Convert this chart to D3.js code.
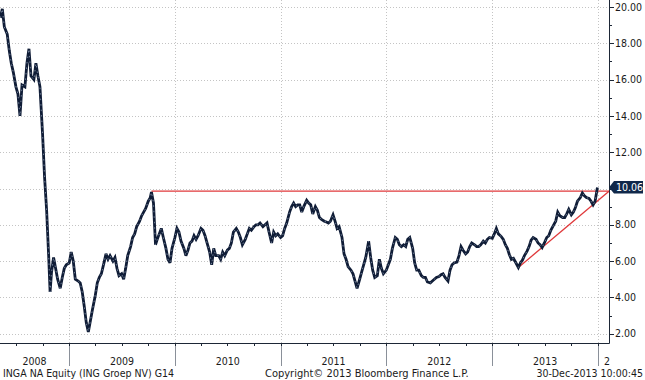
<!DOCTYPE html>
<html><head><meta charset="utf-8">
<script src="https://cdn.jsdelivr.net/npm/d3@7/dist/d3.min.js"></script>
<style>
html,body{margin:0;padding:0;background:#fff;}
svg{display:block;}
text{font-family:"DejaVu Sans Condensed","DejaVu Sans",sans-serif;}
</style></head>
<body><svg id="c" width="645" height="380"></svg>
<script>
// weekly-ish closing prices (EUR)
const dates2008 = ["2008-05-08","2008-05-15","2008-05-22","2008-06-01","2008-06-08","2008-06-15","2008-06-22","2008-07-01","2008-07-08","2008-07-15","2008-07-22","2008-08-01","2008-08-08","2008-08-15","2008-08-22","2008-09-01","2008-09-08","2008-09-15","2008-09-22","2008-10-01","2008-10-08","2008-10-15","2008-10-22","2008-10-27","2008-11-01","2008-11-08","2008-11-15","2008-11-22","2008-12-01","2008-12-08","2008-12-15","2008-12-22"];
const close2008 = [19.4,19.9,18.9,18.5,17.6,16.9,16.4,15.6,15.2,14.0,15.7,15.6,16.9,17.7,16.2,16.0,16.9,16.2,15.6,13.0,10.6,8.8,6.3,4.3,5.4,6.2,5.6,5.0,4.5,5.1,5.6,5.8];
const dates2009 = ["2009-01-01","2009-01-08","2009-01-15","2009-01-22","2009-02-01","2009-02-08","2009-02-15","2009-02-22","2009-03-01","2009-03-08","2009-03-15","2009-03-22","2009-04-01","2009-04-08","2009-04-15","2009-04-22","2009-05-01","2009-05-08","2009-05-15","2009-05-22","2009-06-01","2009-06-08","2009-06-15","2009-06-22","2009-07-01","2009-07-08","2009-07-15","2009-07-22","2009-08-01","2009-08-08","2009-08-15","2009-08-22","2009-09-01","2009-09-08","2009-09-15","2009-09-22","2009-10-01","2009-10-08","2009-10-12","2009-10-19","2009-10-26","2009-11-01","2009-11-08","2009-11-15","2009-11-22","2009-12-01","2009-12-08","2009-12-15","2009-12-22"];
const close2009 = [5.9,6.5,6.0,5.0,4.9,4.8,4.3,3.5,2.6,2.1,2.7,3.3,4.1,4.8,5.1,5.3,5.9,6.4,6.1,6.3,6.0,6.2,5.6,5.2,5.3,5.0,5.6,6.3,6.8,7.3,7.5,7.9,8.2,8.5,8.7,8.9,9.3,9.5,9.8,9.2,6.9,7.2,7.5,7.8,7.3,6.7,6.1,5.9,6.7];
const dates2010 = ["2010-01-01","2010-01-08","2010-01-15","2010-01-22","2010-02-01","2010-02-08","2010-02-15","2010-02-22","2010-03-01","2010-03-08","2010-03-15","2010-03-22","2010-04-01","2010-04-08","2010-04-15","2010-04-22","2010-05-01","2010-05-08","2010-05-15","2010-05-22","2010-06-01","2010-06-08","2010-06-15","2010-06-22","2010-07-01","2010-07-08","2010-07-15","2010-07-22","2010-08-01","2010-08-08","2010-08-15","2010-08-22","2010-09-01","2010-09-08","2010-09-15","2010-09-22","2010-10-01","2010-10-08","2010-10-15","2010-10-22","2010-11-01","2010-11-08","2010-11-15","2010-11-22","2010-12-01","2010-12-08","2010-12-15","2010-12-22"];
const close2010 = [7.3,7.8,7.6,7.1,6.7,6.3,6.6,7.0,7.1,7.4,7.2,7.4,7.8,7.7,7.4,7.0,6.5,5.8,6.7,6.3,6.3,6.1,6.5,6.3,6.6,6.7,7.0,7.6,7.8,7.6,7.3,6.9,7.2,7.5,7.8,7.7,7.9,8.0,8.0,8.1,7.9,8.0,8.1,7.6,7.0,7.6,7.4,7.5];
const dates2011 = ["2011-01-01","2011-01-08","2011-01-15","2011-01-22","2011-02-01","2011-02-08","2011-02-15","2011-02-22","2011-03-01","2011-03-08","2011-03-15","2011-03-22","2011-04-01","2011-04-08","2011-04-15","2011-04-22","2011-05-01","2011-05-08","2011-05-15","2011-05-22","2011-06-01","2011-06-08","2011-06-15","2011-06-22","2011-07-01","2011-07-08","2011-07-15","2011-07-22","2011-08-01","2011-08-08","2011-08-15","2011-08-22","2011-09-01","2011-09-08","2011-09-15","2011-09-22","2011-10-01","2011-10-08","2011-10-15","2011-10-22","2011-11-01","2011-11-08","2011-11-15","2011-11-22","2011-12-01","2011-12-08","2011-12-15","2011-12-22"];
const close2011 = [7.3,7.4,7.8,8.1,8.7,9.0,9.2,9.0,9.1,9.1,8.7,9.0,9.35,9.2,9.1,8.6,9.0,8.8,8.4,8.3,8.2,8.15,8.1,8.2,8.55,8.2,7.8,7.9,7.3,6.4,6.1,5.7,5.5,5.3,4.9,4.5,5.0,5.4,5.8,6.2,7.1,6.2,5.5,5.1,5.2,6.1,5.6,5.3];
const dates2012 = ["2012-01-01","2012-01-08","2012-01-15","2012-01-22","2012-02-01","2012-02-08","2012-02-15","2012-02-22","2012-03-01","2012-03-08","2012-03-15","2012-03-22","2012-04-01","2012-04-08","2012-04-15","2012-04-22","2012-05-01","2012-05-08","2012-05-15","2012-05-22","2012-06-01","2012-06-08","2012-06-15","2012-06-22","2012-07-01","2012-07-08","2012-07-15","2012-07-22","2012-08-01","2012-08-08","2012-08-15","2012-08-22","2012-09-01","2012-09-08","2012-09-15","2012-09-22","2012-10-01","2012-10-08","2012-10-15","2012-10-22","2012-11-01","2012-11-08","2012-11-15","2012-11-22","2012-12-01","2012-12-08","2012-12-15","2012-12-22"];
const close2012 = [5.5,5.8,6.1,6.7,7.3,7.2,6.9,6.8,6.9,6.8,7.2,7.3,6.7,5.9,5.5,5.5,5.2,5.1,5.1,4.85,4.8,4.9,5.0,5.1,5.15,5.25,5.3,5.1,4.9,5.5,5.8,5.9,5.95,6.3,6.8,6.6,6.4,6.5,6.8,7.0,6.9,6.8,6.8,6.9,7.1,7.0,7.2,7.3];
const dates2013 = ["2013-01-01","2013-01-08","2013-01-15","2013-01-22","2013-02-01","2013-02-08","2013-02-15","2013-02-22","2013-03-01","2013-03-08","2013-03-15","2013-03-22","2013-04-01","2013-04-08","2013-04-15","2013-04-22","2013-05-01","2013-05-08","2013-05-15","2013-05-22","2013-06-01","2013-06-08","2013-06-15","2013-06-22","2013-07-01","2013-07-08","2013-07-15","2013-07-22","2013-08-01","2013-08-08","2013-08-15","2013-08-22","2013-09-01","2013-09-08","2013-09-15","2013-09-22","2013-10-01","2013-10-08","2013-10-15","2013-10-22","2013-11-01","2013-11-08","2013-11-15","2013-11-22","2013-12-01","2013-12-08","2013-12-15","2013-12-22","2013-12-30"];
const close2013 = [7.25,7.5,7.8,7.5,7.35,7.2,6.9,6.7,6.35,6.1,6.15,5.95,5.65,5.9,6.05,6.3,6.55,6.8,7.15,7.3,7.2,7.0,6.9,6.75,7.05,7.3,7.4,7.7,8.0,8.2,8.7,8.5,8.4,8.4,8.6,8.85,8.55,8.7,8.95,9.3,9.5,9.75,9.6,9.5,9.45,9.3,9.1,9.3,10.06];

const resistanceDates = ["2009-10-12","2014-02-08"];
const resistanceValues = [9.85,9.85];
const trendDates = ["2013-04-01","2014-02-08"];
const trendValues = [5.65,9.85];
const yTicks = [2,4,6,8,10,12,14,16,18,20];
const yMinorTicks = [3,5,7,9,11,13,15,17,19];
const years = ["2008","2009","2010","2011","2012","2013","2014"];
const lastLabel = "10.06";
const footerLeft = "INGA NA Equity (ING Groep NV) G14";
const footerMid = "Copyright\u00a9 2013 Bloomberg Finance L.P.";
const footerRight = "30-Dec-2013 10:00:45";

const dates = [].concat(dates2008,dates2009,dates2010,dates2011,dates2012,dates2013);
const closes = [].concat(close2008,close2009,close2010,close2011,close2012,close2013);

const parse = d3.timeParse("%Y-%m-%d");
const W = 609, B = 343;
const x = d3.scaleTime().domain([parse("2008-05-07"), parse("2014-02-08")]).range([0, W]);
const y = d3.scaleLinear().domain([2, 20]).range([333.7, 7]);
const svg = d3.select("#c");
const data = dates.map((d,i)=>({d:parse(d), v:closes[i]}));

// grid
svg.append("g").selectAll("line").data(yTicks).join("line")
  .attr("x1",0).attr("x2",W).attr("y1",d=>Math.round(y(d))+0.5).attr("y2",d=>Math.round(y(d))+0.5)
  .attr("stroke","#c4c4c4").attr("stroke-dasharray","1,2");
const yearStarts = years.slice(1).map(s=>parse(s+"-01-01"));
svg.append("g").selectAll("line").data(yearStarts).join("line")
  .attr("x1",d=>Math.round(x(d))+0.5).attr("x2",d=>Math.round(x(d))+0.5).attr("y1",0).attr("y2",B)
  .attr("stroke","#c4c4c4").attr("stroke-dasharray","1,2");
svg.append("g").selectAll("line").data(yearStarts).join("line")
  .attr("x1",d=>Math.round(x(d))+0.5).attr("x2",d=>Math.round(x(d))+0.5).attr("y1",B).attr("y2",366)
  .attr("stroke","#8a9099");
const quarters = d3.timeMonth.every(3).range(parse("2008-07-01"), parse("2014-02-01"));
svg.append("g").selectAll("line").data(quarters).join("line")
  .attr("x1",d=>Math.round(x(d))+0.5).attr("x2",d=>Math.round(x(d))+0.5).attr("y1",B).attr("y2",B+3)
  .attr("stroke","#1d2736");

// year labels
svg.append("clipPath").attr("id","xc").append("rect").attr("x",0).attr("y",340).attr("width",W+1).attr("height",30);
const yearG = svg.append("g").attr("clip-path","url(#xc)");
years.forEach(yr=>{
  const s = Math.max(0, x(parse(yr+"-01-01")));
  const eRaw = x(parse((+yr+1)+"-01-01"));
  const full = eRaw <= W;
  yearG.append("text").attr("x", full ? (s+Math.min(W,eRaw))/2 : s+6).attr("y",364.5)
    .attr("text-anchor", full ? "middle":"start").attr("font-size","10.5px").attr("fill","#1a1a1a").text(yr);
});

const line = d3.line().x(d=>x(d.d)).y(d=>y(d.v));
// red lines
svg.append("path").datum(resistanceDates.map((d,i)=>({d:parse(d),v:resistanceValues[i]})))
  .attr("d",line).attr("fill","none").attr("stroke","#e0393b").attr("stroke-width",1.3);
svg.append("path").datum(trendDates.map((d,i)=>({d:parse(d),v:trendValues[i]})))
  .attr("d",line).attr("fill","none").attr("stroke","#e0393b").attr("stroke-width",1.3);

// price
svg.append("path").datum(data).attr("d",line).attr("fill","none")
  .attr("stroke","#0f1c36").attr("stroke-width",2.8).attr("stroke-linejoin","miter").attr("stroke-miterlimit",3);
svg.append("path").datum(data).attr("d",line).attr("fill","none")
  .attr("stroke","#8796ad").attr("stroke-width",0.8).attr("stroke-dasharray","1.5,4");

// axes
svg.append("line").attr("x1",0).attr("x2",W+0.5).attr("y1",B+0.5).attr("y2",B+0.5).attr("stroke","#1d2736");
svg.append("line").attr("x1",W+0.5).attr("x2",W+0.5).attr("y1",0).attr("y2",B+0.5).attr("stroke","#1d2736");
svg.append("g").selectAll("line").data(yTicks).join("line")
  .attr("x1",W).attr("x2",W+5).attr("y1",d=>Math.round(y(d))+0.5).attr("y2",d=>Math.round(y(d))+0.5).attr("stroke","#1d2736");
svg.append("g").selectAll("line").data(yMinorTicks).join("line")
  .attr("x1",W).attr("x2",W+3).attr("y1",d=>Math.round(y(d))+0.5).attr("y2",d=>Math.round(y(d))+0.5).attr("stroke","#1d2736");
svg.append("g").selectAll("text").data(yTicks.filter(d=>d!==10)).join("text")
  .attr("x",W+6).attr("y",d=>y(d)).attr("dy","0.35em").attr("font-size","10.5px").attr("fill","#1a1a1a")
  .text(d=>d3.format(".2f")(d));

// last value tag
const ly = y(closes[closes.length-1]);
svg.append("path").attr("d",`M${W},${ly} L${W+5},${ly-6.5} L643,${ly-6.5} L643,${ly+6} L${W+5},${ly+6} Z`).attr("fill","#10284a");
svg.append("text").attr("x",W+7).attr("y",ly).attr("dy","0.35em").attr("font-size","10.5px").attr("fill","#fff").text(lastLabel);

// footer
svg.append("text").attr("x",3).attr("y",377).attr("font-size","10.5px").attr("fill","#1a1a1a").text(footerLeft);
svg.append("text").attr("x",265).attr("y",377).attr("font-size","11px").attr("fill","#1a1a1a").text(footerMid);
svg.append("text").attr("x",643).attr("y",377).attr("text-anchor","end").attr("font-size","10.5px").attr("fill","#1a1a1a").text(footerRight);
</script></body></html>
